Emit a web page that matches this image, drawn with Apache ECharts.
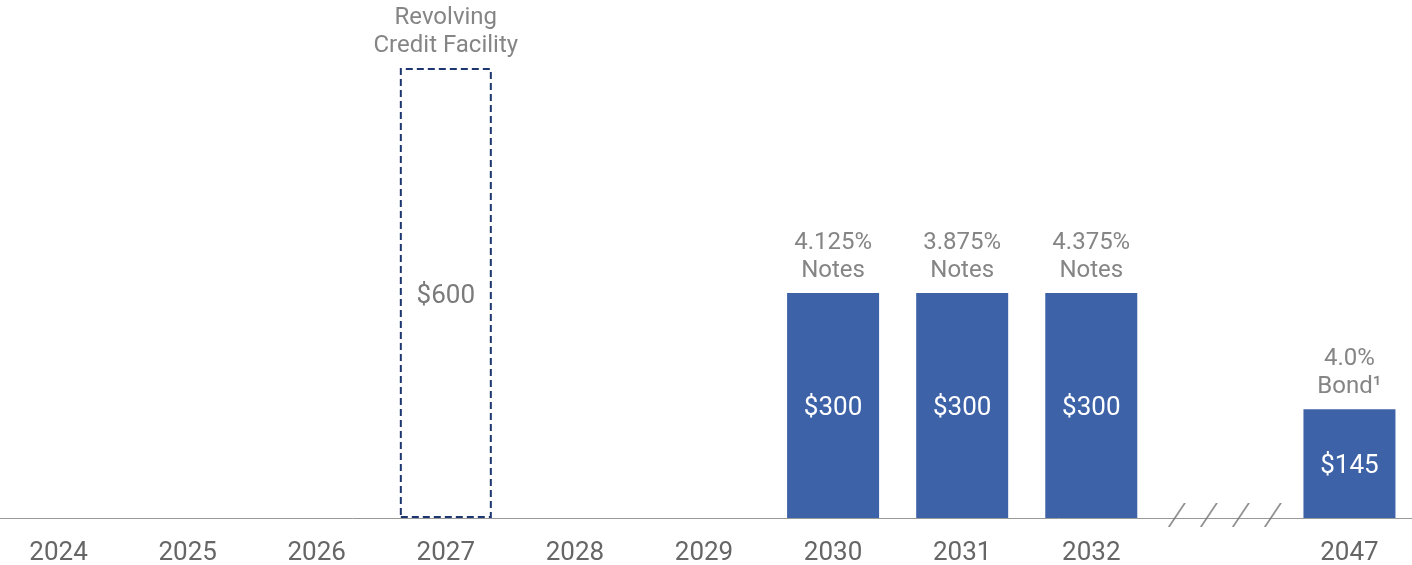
<!DOCTYPE html>
<html>
<head>
<meta charset="utf-8">
<script src="https://cdn.jsdelivr.net/npm/echarts@6/dist/echarts.min.js"></script>
<style>html,body{margin:0;padding:0;background:#fff}#c{width:1412px;height:565px}</style>
</head>
<body>
<div id="c"></div>
<script>
const categories = ['2024','2025','2026','2027','2028','2029','2030','2031','2032','','2047'];
const values = [null,null,null,600,null,null,300,300,300,null,145];
const topLabels = ['','','','Revolving\nCredit Facility','','','4.125%\nNotes','3.875%\nNotes','4.375%\nNotes','','4.0%\nBond¹'];
const dashedCategory = '2027';
const breakCategory = '';

const FONT = 'Roboto';
const chart = echarts.init(document.getElementById('c'));

const mainData = values.map((v, i) => {
  if (v == null) return null;
  const dashed = categories[i] === dashedCategory;
  return {
    value: v,
    itemStyle: dashed ? {color: 'rgba(0,0,0,0)', borderColor: '#1c3670', borderWidth: 2, borderType: [7, 4]} : {color: '#3d62a8'},
    label: {color: dashed ? '#7a7a7a' : '#ffffff'}
  };
});

chart.setOption({
  animation: false,
  grid: {left: -6, right: -2, top: 68, bottom: 47, outerBoundsMode: 'none', containLabel: false},
  xAxis: {
    type: 'category',
    data: categories,
    axisLine: {lineStyle: {color: '#999999', width: 1}},
    axisTick: {show: false},
    axisLabel: {color: '#666666', fontSize: 26, fontFamily: FONT, margin: 22, interval: 0}
  },
  yAxis: {type: 'value', min: 0, max: 600, show: false, splitLine: {show: false}},
  series: [
    {
      type: 'bar',
      data: mainData,
      barWidth: 92,
      label: {show: true, position: 'inside', offset: [0, 3], fontSize: 26, fontFamily: FONT, formatter: p => '$' + p.value}
    },
    {
      type: 'bar',
      data: values,
      barWidth: 92,
      barGap: '-100%',
      itemStyle: {color: 'rgba(0,0,0,0)'},
      label: {show: true, position: 'top', distance: 8, fontSize: 24, lineHeight: 28, color: '#858585', fontFamily: FONT,
        formatter: p => topLabels[p.dataIndex]}
    },
    {
      type: 'scatter',
      data: [[breakCategory, 0]],
      symbol: 'path://M0,24 L16,0 M32,24 L48,0 M64,24 L80,0 M96,24 L112,0',
      symbolSize: [112, 24],
      symbolOffset: [4.5, -3],
      itemStyle: {color: 'none', borderColor: '#777777', borderWidth: 1},
      silent: true,
      z: 5
    }
  ]
});
</script>
</body>
</html>
